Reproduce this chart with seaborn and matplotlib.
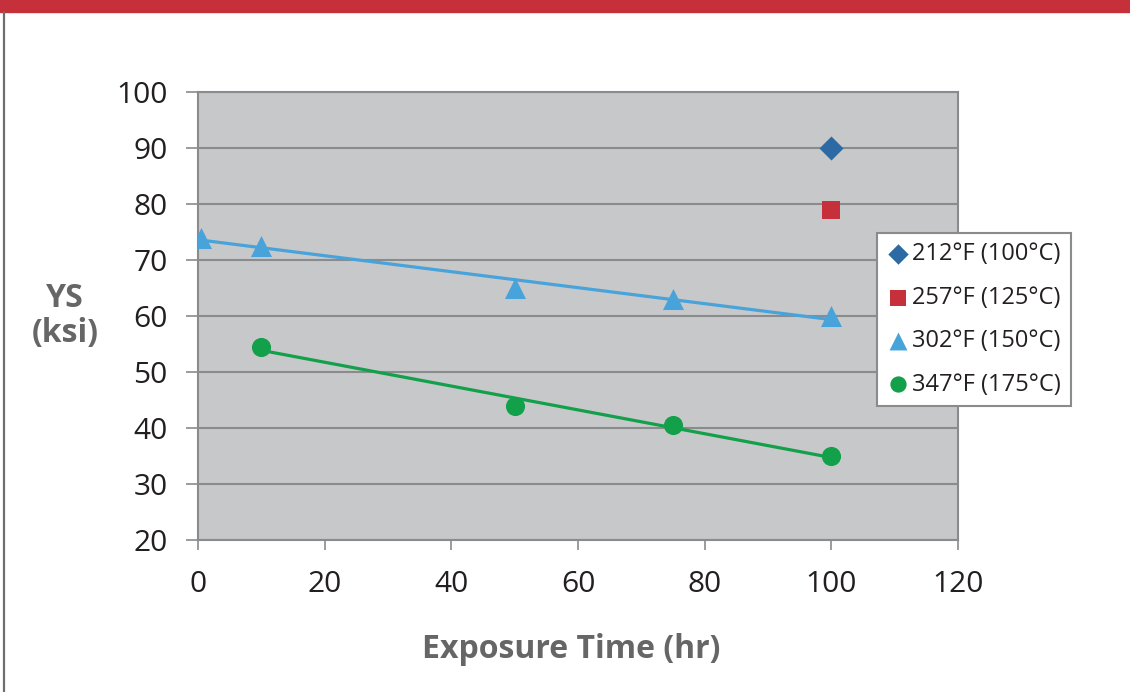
import numpy as np
import pandas as pd
import matplotlib
matplotlib.use("Agg")
import matplotlib.pyplot as plt
import seaborn as sns
from matplotlib.patches import Rectangle
from matplotlib.lines import Line2D

# Données
t_212 = [100]
ys_212 = [90]
t_257 = [100]
ys_257 = [79]
t_302 = [0.5, 10, 50, 75, 100]
ys_302 = [74, 72.5, 65, 63, 60]
t_347 = [10, 50, 75, 100]
ys_347 = [54.5, 44, 40.5, 35]

labels = ["212°F (100°C)", "257°F (125°C)", "302°F (150°C)", "347°F (175°C)"]
colors = ["#2D6AA3", "#C5303A", "#48A3DA", "#13A04A"]
markers = ["D", "s", "^", "o"]

sns.set_style("white")
plt.rcParams["font.family"] = ["Open Sans", "DejaVu Sans"]

fig = plt.figure(figsize=(11.3, 6.92), dpi=100)
ax = fig.add_axes([198 / 1130, 1 - 540 / 692, 760 / 1130, 448 / 692])
ax.set_facecolor("#C7C8CA")

# Bandeau rouge + bordure gauche
fig.patches.append(Rectangle((0, 1 - 12 / 692), 1, 12 / 692, transform=fig.transFigure,
                             color="#C5303A", zorder=0))
fig.lines.append(Line2D([3.5 / 1130, 3.5 / 1130], [0, 1 - 12 / 692], transform=fig.transFigure,
                        color="#6D6E70", lw=1.6))

# Droites de tendance
sns.regplot(x=t_302, y=ys_302, ax=ax, scatter=False, ci=None, color=colors[2],
            line_kws={"lw": 2.3, "zorder": 3})
sns.regplot(x=t_347, y=ys_347, ax=ax, scatter=False, ci=None, color=colors[3],
            line_kws={"lw": 2.3, "zorder": 3})

series = [(t_212, ys_212), (t_257, ys_257), (t_302, ys_302), (t_347, ys_347)]
sizes = [150, 170, 230, 190]
for (x, y), lab, c, m, s in zip(series, labels, colors, markers, sizes):
    sns.scatterplot(x=x, y=y, ax=ax, marker=m, color=c, s=s, linewidth=0,
                    label=lab, zorder=4)

ax.set_xlim(0, 120)
ax.set_ylim(20, 100)
ax.set_xticks(np.arange(0, 121, 20))
ax.set_yticks(np.arange(20, 101, 10))
ax.yaxis.grid(True, color="#8A8B8D", lw=1.5)
ax.xaxis.grid(False)
ax.set_axisbelow(True)
for sp in ax.spines.values():
    sp.set_color("#8A8B8D")
    sp.set_linewidth(1.5)
ax.tick_params(axis="y", length=9, width=1.2, color="#8A8B8D", pad=13,
               labelsize=21.5, labelcolor="#231F20", left=True)
ax.tick_params(axis="x", length=7.5, width=1.2, color="#8A8B8D", pad=14,
               labelsize=21.5, labelcolor="#231F20", bottom=True)
ax.set_xlabel("")
ax.set_ylabel("")

fig.text(571 / 1130, 1 - 650 / 692, "Exposure Time (hr)", ha="center", va="center",
         fontsize=23, fontweight="bold", color="#666666")
fig.text(65 / 1130, 1 - 316 / 692, "YS\n(ksi)", ha="center", va="center",
         fontsize=23, fontweight="bold", color="#666666", linespacing=1.1)

leg = ax.legend(loc="upper left", bbox_to_anchor=(877 / 1130, 1 - 233 / 692),
                bbox_transform=fig.transFigure, frameon=True, fancybox=False,
                fontsize=17, labelspacing=0.82, handletextpad=0.1, handlelength=1.0,
                borderpad=0.4, borderaxespad=0, markerscale=0.85)
leg.get_frame().set_edgecolor("#8A8B8D")
leg.get_frame().set_linewidth(1.5)
leg.get_frame().set_alpha(1)
for txt in leg.get_texts():
    txt.set_color("#231F20")

fig.savefig("out.png", dpi=100)
